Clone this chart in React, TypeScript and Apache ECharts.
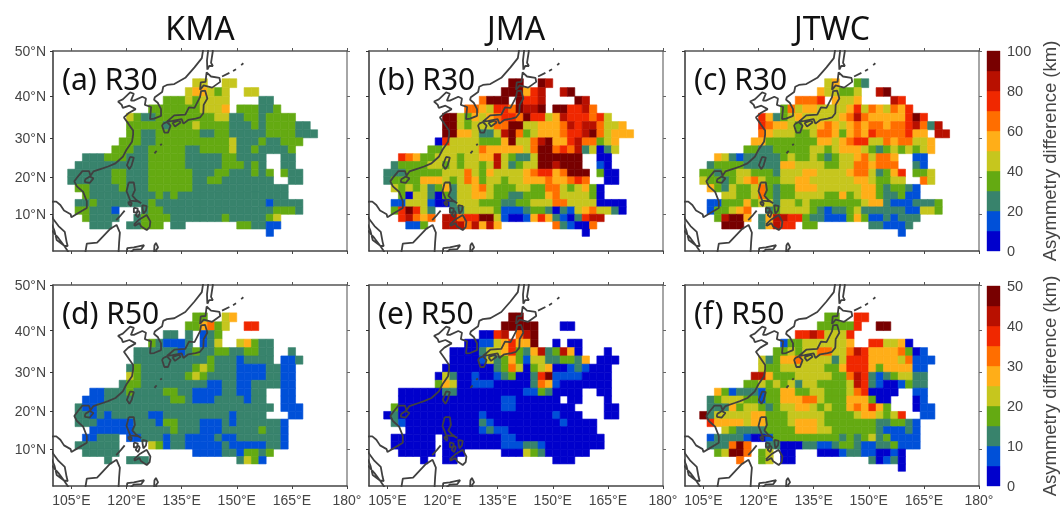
import React, { useEffect, useRef } from "react";
import * as echarts from "echarts";

// Each row: cells as "lonStart-lonEnd:class" (class = colour-bar bin 0..9). Rows run from 42-44N down to 4-6N.
const ROW_LATS = [42, 40, 38, 36, 34, 32, 30, 28, 26, 24, 22, 20, 18, 16, 14, 12, 10, 8, 6, 4];

const panelA = [
  "138-142:4 146-150:4",
  "136-138:4 138-142:5 142-144:4 144-146:3 146-148:4 152-156:4",
  "130-136:3 136-138:4 138-140:3 140-148:4 156-160:2",
  "126-140:3 140-146:4 146-148:5 150-156:3 156-160:2 160-162:3",
  "120-122:4 122-124:3 124-128:2 128-144:3 144-148:4 148-152:2 152-156:3 156-158:2 158-166:3",
  "120-130:3 130-132:2 132-138:3 138-140:4 140-148:3 148-154:2 154-156:3 156-158:2 158-166:3 166-170:2",
  "120-124:3 124-128:2 128-140:3 140-144:2 144-148:3 148-158:2 158-166:3 166-172:2",
  "118-124:3 124-128:2 128-148:3 148-150:4 150-156:2 156-158:3 158-162:2 162-168:3",
  "116-122:3 122-126:2 126-136:3 136-140:2 140-148:3 148-150:4 150-154:2 154-156:3 156-164:2 164-166:3",
  "108-114:2 114-120:3 120-126:2 126-136:3 136-146:2 146-150:3 150-158:2 162-166:2",
  "106-126:2 126-136:3 136-146:2 146-152:3 152-154:2 154-156:3 156-158:2 162-166:2",
  "104-116:2 116-120:3 120-126:2 126-138:3 138-144:2 144-148:3 148-154:2 154-156:3 156-158:2 158-160:3 162-164:3 164-168:2",
  "104-116:2 116-120:3 120-126:2 126-138:3 138-142:2 142-146:3 146-160:2 164-168:2",
  "106-110:3 110-118:2 118-120:3 120-126:2 126-138:3 138-164:2",
  "108-110:3 110-128:2 128-130:3 130-132:2 132-134:3 134-164:2",
  "106-110:2 110-112:3 112-126:2 126-128:3 128-158:2 158-160:1 160-168:2",
  "106-110:3 110-116:2 116-118:1 124-126:2 126-130:3 130-160:2 160-166:3 166-168:2",
  "108-110:3 110-118:2 122-124:2 124-132:3 132-146:2 146-148:3 148-158:2 158-160:3 160-162:4",
  "110-116:2 120-124:2 124-130:3 132-136:2 150-154:3 154-158:2 158-162:1",
  "158-160:1",
];

const panelB = [
  "138-142:9 146-148:9 148-150:8",
  "136-142:9 142-144:5 144-146:7 146-148:8 152-154:8 154-156:9",
  "130-132:6 132-138:9 140-142:9 142-146:7 146-148:8 156-158:9 158-160:8",
  "126-130:6 130-132:5 132-134:4 134-138:7 138-140:6 140-142:9 142-146:8 146-148:9 150-154:9 154-158:7 158-160:8 160-162:6",
  "120-124:9 124-126:4 126-128:3 128-130:5 130-132:4 132-134:5 134-136:6 136-140:7 140-142:6 142-144:9 144-148:7 148-150:4 150-152:5 152-154:8 154-160:7 160-162:6 162-164:7 164-166:4",
  "120-124:9 124-126:4 126-128:3 128-134:4 134-138:6 138-142:9 142-146:4 146-152:5 152-154:6 154-156:8 156-158:7 158-162:8 162-164:6 164-168:4 168-170:5",
  "120-124:9 124-128:5 128-130:4 130-134:2 134-136:4 136-138:8 138-140:9 140-142:6 142-144:3 144-146:4 146-152:5 152-154:6 154-158:7 158-160:8 160-162:9 162-164:6 164-166:4 166-172:5",
  "118-120:0 120-122:7 122-130:4 130-136:3 136-138:5 138-140:9 140-144:4 144-146:6 146-148:8 148-150:9 150-154:5 154-156:7 156-158:8 158-162:6 162-164:3 164-166:4 166-168:5",
  "116-120:3 120-130:4 130-132:6 132-142:5 142-144:4 144-146:6 146-150:9 150-152:6 152-154:7 154-156:6 156-158:8 158-160:2 160-162:4 162-164:0 164-166:2 166-168:4",
  "108-110:7 110-112:6 112-114:5 114-118:3 118-124:4 124-126:3 126-130:4 130-134:5 134-136:8 136-138:4 138-140:3 140-144:2 144-146:4 146-158:9 162-166:0",
  "106-108:2 108-116:3 116-120:4 120-122:3 122-124:4 124-126:3 126-130:4 130-132:3 132-134:4 134-136:8 136-138:4 138-140:2 140-142:3 142-146:4 146-150:9 150-152:8 152-158:9 162-164:1 164-166:0",
  "104-110:2 110-120:3 120-126:4 126-128:6 128-130:4 130-132:3 132-134:5 134-142:4 142-144:5 144-146:6 146-150:7 150-152:5 152-154:6 154-160:9 162-164:3 164-168:0",
  "104-106:2 106-114:3 114-120:5 120-122:4 122-124:3 124-126:4 126-128:6 128-130:5 130-132:3 132-136:4 136-138:3 138-142:4 142-148:5 148-150:6 150-154:5 154-156:6 156-158:7 158-160:6 164-168:0",
  "106-108:4 108-110:3 110-112:4 112-114:3 114-116:4 116-118:2 118-120:3 120-122:5 122-124:2 124-128:4 128-130:5 130-132:6 132-134:4 134-140:3 140-144:4 144-148:3 148-152:6 152-154:4 154-156:3 156-158:4 158-160:5 160-162:3 162-164:0",
  "108-110:3 110-112:0 112-116:4 116-118:2 118-120:0 120-122:3 122-124:2 124-128:4 128-132:5 132-134:4 134-138:3 138-142:2 142-148:3 148-150:5 150-152:6 152-160:4 160-162:3 162-164:0",
  "106-110:1 110-116:4 116-118:1 118-122:0 122-124:2 124-130:4 130-136:3 136-140:2 140-144:3 144-150:4 150-154:6 154-162:4 162-170:0",
  "106-108:3 108-110:7 110-112:9 112-114:7 114-116:4 116-118:2 122-126:2 126-134:4 134-136:3 136-142:1 142-144:2 144-148:3 148-150:2 150-152:0 152-154:2 154-156:1 156-158:4 158-160:5 160-162:6 162-166:4 166-168:2 168-170:0",
  "108-110:7 110-112:8 112-114:6 114-116:5 116-118:6 120-124:8 124-126:6 126-130:7 130-134:9 134-136:4 136-138:1 138-142:0 142-144:1 144-146:5 146-148:7 148-150:5 150-152:2 152-154:1 154-156:0 156-158:2 158-160:7 160-164:8",
  "110-114:1 114-116:3 120-126:8 126-128:6 128-130:8 130-132:5 132-134:8 134-136:5 150-152:6 152-154:2 154-156:1 156-160:0 160-162:6",
  "158-160:0",
];

const panelC = [
  "138-140:4 140-142:5 146-148:3 148-150:2",
  "136-138:5 138-142:4 142-146:3 146-148:4 152-154:8 154-156:9",
  "130-136:6 136-138:7 140-142:5 142-146:4 146-148:5 156-158:8 158-160:7",
  "126-128:3 128-130:6 130-132:4 132-136:5 136-144:4 144-146:5 146-148:7 148-150:4 150-152:6 152-154:5 154-156:4 156-158:6 158-160:5 160-162:7",
  "120-122:7 122-124:5 124-126:2 126-128:3 128-130:4 130-132:5 132-142:4 142-144:5 144-146:6 146-148:8 148-150:6 150-160:5 160-162:7 162-164:9 164-166:7",
  "120-122:7 122-124:6 124-128:5 128-130:4 130-132:3 132-136:4 136-138:5 138-140:6 140-142:5 142-144:4 144-146:5 146-148:6 148-150:5 150-154:6 154-156:5 156-160:6 160-162:7 162-164:8 164-166:6 166-168:2 168-170:8",
  "120-122:6 122-124:5 124-130:4 130-134:3 134-136:4 136-140:6 140-142:5 142-144:3 144-146:5 146-148:6 148-150:5 150-152:7 152-160:6 160-162:7 162-166:5 168-172:8",
  "118-122:5 122-136:3 136-140:5 140-142:4 142-144:5 144-146:6 146-150:7 150-154:4 154-156:6 156-158:5 158-162:6 162-166:4 166-168:5",
  "116-120:3 120-124:2 124-134:3 134-138:4 138-140:3 140-142:4 142-148:5 148-150:4 150-152:3 152-154:2 154-156:3 156-158:4 158-160:3 160-162:4 162-164:3 164-166:4 166-168:5",
  "108-110:5 110-112:4 112-114:2 114-116:1 116-126:2 126-128:3 128-130:4 130-134:3 134-136:4 136-138:3 138-140:2 140-142:3 142-146:4 146-148:5 148-150:6 150-152:4 152-156:6 156-158:5 162-166:1",
  "106-108:2 108-116:3 116-126:2 126-130:5 130-138:4 138-142:3 142-146:4 146-150:6 150-152:5 152-158:6 162-164:2 164-166:1",
  "104-108:3 108-110:2 110-114:3 114-118:4 118-124:3 124-126:2 126-132:4 132-136:5 136-144:4 144-146:5 146-150:6 150-152:4 152-154:2 154-156:3 156-158:5 158-160:7 162-166:3 166-168:4",
  "104-106:4 106-110:3 110-112:2 112-114:3 114-116:4 116-118:5 118-120:6 120-122:4 122-126:3 126-130:4 130-134:5 134-146:4 146-150:5 150-152:4 152-156:3 156-160:4 164-166:6 166-168:4",
  "106-108:5 108-110:3 110-112:2 112-114:4 114-118:3 118-120:4 120-122:6 122-124:3 124-126:2 126-130:3 130-136:5 136-148:4 148-152:5 152-154:3 154-156:2 156-160:3 160-162:2 162-164:1",
  "110-114:4 114-118:3 118-120:4 120-122:6 122-124:3 124-126:2 126-130:3 130-138:4 138-142:3 142-144:5 144-146:3 146-148:4 148-152:5 152-154:3 154-158:2 158-160:3 160-164:1",
  "106-110:1 110-116:3 116-118:5 118-120:3 120-124:4 124-126:2 126-130:4 130-132:3 132-134:4 134-148:3 148-150:4 150-154:5 154-156:2 156-162:1 162-168:2 168-170:3",
  "106-108:1 108-112:3 112-114:4 114-116:5 116-118:6 122-124:2 124-126:3 126-134:4 134-136:3 136-138:2 138-140:1 140-144:2 144-146:3 146-148:4 148-160:2 160-164:1 164-168:4 168-170:3",
  "108-110:3 110-112:8 112-116:9 116-118:5 120-122:2 122-124:5 124-128:8 128-132:7 132-134:3 134-138:2 138-144:1 144-146:3 146-148:5 148-150:3 150-154:1 154-156:2 156-158:1 158-164:2",
  "110-116:9 120-122:2 122-124:5 124-126:8 126-130:7 132-136:3 150-154:2 154-160:1 160-162:2",
  "158-160:1",
];

const panelD = [
  "138-142:3 146-148:4 148-150:5",
  "136-140:3 140-142:5 142-144:6 144-146:3 146-148:4 152-156:7",
  "130-134:2 136-138:2 140-142:1 142-144:2 144-146:3",
  "126-128:3 128-130:2 130-136:1 136-138:2 140-142:1 142-144:2 144-146:4 150-152:4 152-154:5 154-156:3 156-160:2",
  "122-134:2 134-136:1 136-138:2 138-140:3 140-144:2 144-148:3 148-152:2 152-156:3 156-160:2 164-166:2",
  "122-142:2 142-144:3 144-150:2 150-152:1 152-160:2 162-166:1 166-168:2",
  "120-122:2 122-124:3 124-138:2 138-140:3 140-142:4 142-144:3 144-150:2 150-158:1 158-162:2 162-166:1",
  "120-122:4 122-124:3 124-136:2 136-138:3 138-140:4 140-142:3 142-150:2 150-158:1 158-162:2 162-166:1",
  "118-120:2 120-124:3 124-142:2 142-146:1 146-150:2 150-154:1 154-162:2 162-166:1",
  "110-114:1 114-120:2 120-122:3 122-130:2 130-134:3 134-138:2 138-146:1 146-150:2 150-154:1 154-158:2 162-166:1",
  "108-114:1 114-132:2 132-136:3 136-138:2 138-144:1 144-152:2 152-154:1 154-158:2 162-166:1",
  "106-108:2 108-112:1 112-160:2 162-168:1",
  "106-110:2 110-112:1 112-114:2 114-116:1 116-126:2 126-130:1 130-148:2 148-150:1 150-158:2 164-168:1",
  "106-112:2 112-122:1 122-128:2 128-130:1 130-134:3 134-140:2 140-146:1 146-148:2 148-150:1 150-162:2 162-164:1",
  "110-122:1 122-132:2 132-134:3 134-140:2 140-146:1 146-156:2 156-158:3 158-162:2 162-164:1",
  "108-112:1 112-118:2 120-124:1 124-130:2 130-132:1 132-136:2 136-144:1 144-146:2 146-150:1 150-162:2 162-164:1",
  "106-118:2 126-128:4 128-130:3 130-132:1 132-136:2 136-146:1 146-148:2 148-158:1 158-162:2 162-164:1",
  "108-118:2 138-146:1 146-150:2 150-152:1 152-156:3 156-158:2 158-160:3",
  "114-116:2 120-126:2 150-152:2 152-154:4 154-156:3 156-158:1",
  "",
];

const panelE = [
  "138-142:9",
  "136-146:9 152-156:0",
  "130-134:0 134-136:7 136-138:8 140-142:6 142-144:8 144-146:9",
  "126-130:0 130-134:1 134-136:4 136-138:5 138-140:7 140-144:5 144-146:9 150-152:0 154-158:0",
  "122-130:0 130-132:2 132-136:4 136-138:5 138-140:7 140-142:3 142-144:2 144-146:5 146-148:8 148-150:2 150-152:3 152-154:8 154-156:5 156-158:0 164-166:0",
  "122-130:0 130-132:1 132-134:4 134-136:2 136-138:3 138-140:5 140-142:3 142-144:1 144-148:4 148-152:2 152-156:3 156-158:2 158-160:5 162-168:0",
  "120-134:0 134-136:2 136-138:3 138-140:6 140-142:4 142-144:0 144-146:3 146-148:4 148-150:5 150-154:0 154-156:1 156-158:2 158-160:1 160-166:0",
  "118-120:0 120-122:4 122-124:2 124-128:0 128-130:1 130-134:0 134-136:1 136-138:2 138-140:3 140-144:0 144-146:2 146-148:7 148-150:9 150-158:1 158-166:0",
  "118-120:3 120-122:5 122-124:4 124-128:0 128-134:1 134-144:0 144-146:2 146-148:6 148-150:5 150-152:1 152-166:0",
  "108-120:0 120-124:2 124-142:0 142-146:1 146-148:3 148-150:2 150-158:0 162-166:0",
  "108-136:0 136-140:1 140-152:0 154-158:0 164-166:0",
  "106-108:3 108-136:0 136-140:1 140-156:0 164-168:0",
  "104-106:0 106-108:2 108-130:0 130-132:1 132-150:0 150-152:1 152-158:0 164-168:0",
  "106-108:2 108-110:1 110-130:0 130-132:2 132-134:1 134-152:0 152-154:1 154-162:0",
  "110-130:0 130-132:1 132-134:2 134-138:1 138-162:0",
  "106-118:0 120-136:0 136-140:1 140-164:0",
  "106-118:0 120-136:0 136-142:1 142-146:2 146-148:1 148-164:0",
  "108-118:0 120-126:0 136-142:0 142-144:4 144-146:3 146-148:2 148-160:0",
  "114-116:0 120-124:0 150-156:0",
  "",
];

const panelF = [
  "138-142:3 146-150:7",
  "136-146:3 146-148:7 152-156:9",
  "130-134:7 134-136:8 136-138:7 138-144:4 144-146:7",
  "126-128:1 128-132:3 132-144:4 144-146:5 150-154:7 154-158:4 158-160:5 160-162:0",
  "124-128:3 128-130:4 130-132:3 132-136:4 136-140:6 140-144:4 144-146:6 146-148:8 148-150:7 150-158:5 158-160:6 160-162:3 162-164:0 164-166:1",
  "120-122:4 122-124:2 124-126:3 126-130:5 130-132:6 132-140:4 140-142:2 142-144:4 144-150:7 150-158:5 158-160:4 160-162:6 162-168:1",
  "120-122:4 122-126:3 126-138:4 138-142:3 142-144:5 144-150:7 150-152:5 152-154:3 154-162:5 162-166:1",
  "118-122:8 122-124:5 124-130:3 130-140:4 140-144:3 144-146:6 146-148:8 148-150:7 150-152:2 152-154:1 154-156:2 156-158:3 158-162:4 162-166:2",
  "116-120:3 120-122:4 122-124:3 124-126:4 126-128:3 128-130:4 130-132:2 132-136:4 136-144:3 144-146:4 146-148:8 148-150:7 150-152:2 152-154:1 154-158:0 158-160:1 160-162:3 162-166:2",
  "108-110:5 110-112:3 112-114:1 114-120:2 120-122:1 122-126:3 126-130:5 130-134:3 134-138:4 138-144:3 144-146:4 146-148:6 148-150:7 150-158:0 162-166:1",
  "106-108:2 108-110:3 110-116:4 116-120:3 120-122:1 122-126:3 126-132:5 132-136:6 136-138:4 138-144:3 144-150:5 150-152:3 152-156:0 162-164:0 164-166:1",
  "106-112:2 112-114:5 114-116:3 116-120:4 120-122:3 122-124:2 124-126:3 126-130:4 130-134:5 134-136:4 136-138:3 138-140:4 140-144:3 144-146:5 146-148:6 148-150:5 150-152:7 152-154:5 154-156:3 162-164:0 164-168:1",
  "104-106:9 106-108:2 108-118:4 118-122:5 122-128:3 128-138:4 138-146:3 146-148:4 148-152:5 152-154:4 154-156:3 156-158:4 158-160:7 164-168:1",
  "106-108:7 108-116:5 116-118:4 118-122:5 122-128:3 128-130:4 130-136:5 136-138:4 138-152:3 152-156:2 156-160:3 160-162:2 162-164:1",
  "110-112:4 112-114:3 114-122:2 122-130:3 130-136:5 136-140:4 140-152:3 152-154:2 154-160:1 160-162:2 162-164:1",
  "106-108:1 108-116:2 116-118:1 118-122:0 122-124:1 124-142:3 142-144:2 144-146:3 146-148:2 148-150:3 150-152:4 152-154:2 154-156:3 156-164:1",
  "106-112:2 112-114:6 114-116:9 116-118:6 122-126:2 126-132:0 132-136:2 136-140:1 140-142:2 142-146:3 146-148:2 148-152:1 152-156:2 156-158:3 158-164:1",
  "108-110:3 110-112:4 112-116:9 116-118:6 120-122:3 122-124:4 126-130:0 136-142:0 142-144:1 144-148:2 148-152:1 152-156:0 156-158:1 158-160:0",
  "114-116:6 120-122:3 122-124:4 126-130:0 150-152:2 152-154:0 154-156:1 156-158:2 158-160:0",
  "158-160:0",
];

const BIN_COLORS = ["#0000cc", "#0050d8", "#38836c", "#64aa12", "#c6c61e", "#ffae18", "#ff6e00", "#f02800", "#b81000", "#780000"];

const X_TICKS = [105, 120, 135, 150, 165, 180];
const LAT_TICKS = [0, 10, 20, 30, 40, 50];
const R30_TICKS = [0, 20, 40, 60, 80, 100];
const R50_TICKS = [0, 10, 20, 30, 40, 50];

// Coastlines, [lon, lat]
const mainland = [[142,54],[141,51],[140.5,48.5],[138.5,46.5],[136,44.2],[133,42.8],[131,42.6],[130,42.2],[129.7,41],[127.7,39.8],[127.5,39.2],[128.5,38.5],[129.4,37],[129.4,35.4],[127.5,34.7],[126.4,34.6],[126.6,36.5],[126.7,37.5],[125,38],[125.3,39.5],[124.3,39.9],[122,39],[121.2,39],[122,40.6],[121,40.9],[119,39.3],[117.7,38.8],[118.7,38],[119,37.3],[120.8,37.8],[122.5,37],[120.5,36],[119.3,35],[120.5,33.5],[121.8,31.8],[121.8,30.8],[121.5,29],[120,27],[119,25.2],[117,23.5],[115,22.7],[113.5,22.2],[111,21.4],[110.2,20.3],[109.8,21.5],[108,21.5],[106.7,20],[105.8,18.8],[106.5,17.5],[108.2,16],[109.2,13.5],[109.2,11.7],[107,10.4],[105,9.2],[104.8,10],[103,11],[102,12.5],[100.9,13.4],[100,13.4],[98,13]];
const malaya = [[99,11],[100,8.8],[101.5,6.8],[103.2,5.2],[103.7,2.5],[104,1.3],[103,1.5],[101,3],[100.4,5.5],[99.8,7],[98.5,8.2],[98,10]];
const sumatra = [[98,7],[100,5.2],[101.5,3.5],[103,1.5],[104,0],[104.5,-1]];
const borneo = [[108.7,-1],[109.2,2],[112,2.3],[115.5,6],[117.3,7.1],[118.2,5],[118,2.5],[117.8,-1]];
const celebes = [[120,-1],[120.2,0.8],[122,1],[124.8,1.6],[124,0.5],[122,0.4],[121,-0.5]];
const halmahera = [[127.5,-0.5],[127.6,1.5],[128,2.2],[128.6,1],[128,0.2],[128.2,-0.6]];
const palawan = [[117.2,8.4],[118.5,9.8],[119.5,11]];
const luzon = [[120.6,18.5],[122,18.5],[122.3,16.5],[121.6,15],[122.5,14],[124,13],[123,13.5],[121,13.7],[120.5,15],[120,16.2],[120.6,18.5]];
const mindoro = [[120.5,13.4],[121.4,13],[121.2,12.2],[120.6,12.8],[120.5,13.4]];
const samar = [[124.3,12.5],[125.5,12.2],[125.3,11],[124.6,10.2],[124.4,11.3],[124.3,12.5]];
const panay = [[122,11.8],[123.1,11.5],[122.8,10.5],[122,10.5],[122,11.8]];
const negros = [[123.2,11],[123.6,10.4],[123.2,9.2],[122.5,9.8],[123.2,11]];
const mindanao = [[122,7.2],[123.5,8.6],[125.5,9.8],[126.5,8],[126.3,6.5],[125.5,5.7],[124,6.7],[123.5,7.6],[122.3,6.9],[122,7.2]];
const taiwan = [[121,25.2],[122,25],[121.4,23],[120.8,22],[120.1,23],[121,25.2]];
const hainan = [[108.7,19.3],[110,20.1],[111,19.6],[110,18.4],[108.7,18.6],[108.7,19.3]];
const kyushu = [[130,33.5],[131,33.9],[132,33],[131.3,31.3],[130.3,31.3],[129.7,33],[130,33.5]];
const shikoku = [[132.5,33.7],[134.3,34.3],[134.7,33.8],[133.2,32.8],[132.5,33.7]];
const honshu = [[131,34],[133,35.5],[136,35.7],[137,37.4],[138.5,37.3],[140,39.8],[140.3,41.2],[141.4,41.3],[142,39.5],[141,38],[140.9,36],[140,35],[138.8,34.7],[136.8,34.4],[135.5,33.5],[135,34.6],[132.5,34.2],[131,34]];
const hokkaido = [[140,41.5],[140.2,43.2],[141.5,43.3],[141.8,45.4],[143,44.5],[145.3,44.2],[145.5,43.3],[143.3,42],[141,42.5],[140,41.5]];
const sakhalin = [[142,46],[141.9,48],[142.2,50],[142.3,54],[143.5,50],[143,47.5],[143.5,46.8],[142.5,46.8],[142,46]];
const kuril1 = [[146,44.5],[148,45.3]];
const kuril2 = [[149,45.7],[149.8,46.1]];
const kuril3 = [[151.2,47],[151.8,47.4]];
const okinawa = [[127.6,26.1],[128.2,26.7]];
const amami = [[129.2,28.1],[129.6,28.5]];
const COAST = [mainland, malaya, sumatra, borneo, celebes, halmahera, palawan, luzon, mindoro, samar, panay, negros, mindanao, taiwan, hainan, kyushu, shikoku, honshu, hokkaido, sakhalin, kuril1, kuril2, kuril3, okinawa, amami];

// Miller cylindrical projection of latitude, in degrees: the maps' y axis is linear in this.
const miller = (lat: number) => 1.25 * Math.log(Math.tan(Math.PI / 4 + (0.4 * lat * Math.PI) / 180)) * (180 / Math.PI);

const PANELS = [
  { rows: panelA, label: "(a) R30", left: 53, top: 51, h: 200, bin: 10 },
  { rows: panelB, label: "(b) R30", left: 369, top: 51, h: 200, bin: 10 },
  { rows: panelC, label: "(c) R30", left: 685, top: 51, h: 200, bin: 10 },
  { rows: panelD, label: "(d) R50", left: 53, top: 285, h: 201, bin: 5 },
  { rows: panelE, label: "(e) R50", left: 369, top: 285, h: 201, bin: 5 },
  { rows: panelF, label: "(f) R50", left: 685, top: 285, h: 201, bin: 5 },
];
const TITLES = [["KMA", 200], ["JMA", 516], ["JTWC", 832]] as const;

function decode(rows: string[], bin: number) {
  const out: number[][] = [];
  rows.forEach((row, r) => {
    row.split(" ").filter(Boolean).forEach((seg) => {
      const [range, cls] = seg.split(":");
      const [a, b] = range.split("-").map(Number);
      for (let lon = a; lon < b; lon += 2) out.push([lon, ROW_LATS[r], (Number(cls) + 0.5) * bin]);
    });
  });
  return out;
}

function coastData() {
  const out: any[] = [];
  COAST.forEach((line) => {
    line.forEach(([lon, lat]) => out.push([lon, miller(lat)]));
    out.push([null, null]);
  });
  return out;
}

const AXIS_FONT = { fontFamily: "Liberation Sans", fontSize: 14, color: "#444" };

function buildOption() {
  const grid: any[] = [];
  const xAxis: any[] = [];
  const yAxis: any[] = [];
  const series: any[] = [];
  const mMax = miller(50);
  const latVals = LAT_TICKS.map(miller);
  const coast = coastData();

  PANELS.forEach((p, i) => {
    grid.push({ left: p.left, top: p.top, width: 294, height: p.h });
    const showX = i >= 3;
    const showY = i === 0 || i === 3;
    const tick = (color: string, customValues: number[]) => ({ show: true, length: 3, customValues, lineStyle: { color, width: 1 } });
    xAxis.push(
      {
        gridIndex: i, type: "value", min: 100, max: 180, position: "bottom", splitLine: { show: false },
        axisLine: { onZero: false, lineStyle: { color: "#444", width: 1.5 } },
        axisTick: tick("#444", X_TICKS),
        axisLabel: { show: showX, customValues: X_TICKS, margin: 7, ...AXIS_FONT, formatter: (v: number) => (v === 180 ? "180°" : `${v}°E`) },
      },
      {
        gridIndex: i, type: "value", min: 100, max: 180, position: "top", splitLine: { show: false },
        axisLine: { onZero: false, lineStyle: { color: "#555", width: 1.5 } },
        axisTick: tick("#555", X_TICKS),
        axisLabel: { show: false },
      }
    );
    yAxis.push(
      {
        gridIndex: i, type: "value", min: 0, max: mMax, position: "left", splitLine: { show: false },
        axisLine: { onZero: false, lineStyle: { color: "#333", width: 1.5 } },
        axisTick: tick("#333", latVals),
        axisLabel: {
          show: showY, customValues: latVals, margin: 7, ...AXIS_FONT,
          formatter: (v: number) => {
            const lat = LAT_TICKS[latVals.findIndex((m) => Math.abs(m - v) < 0.01)];
            return lat === 0 ? "0°" : `${lat}°N`;
          },
        },
      },
      {
        gridIndex: i, type: "value", min: 0, max: mMax, position: "right", splitLine: { show: false },
        axisLine: { onZero: false, lineStyle: { color: "#888", width: 1.5 } },
        axisTick: tick("#666", latVals),
        axisLabel: { show: false },
      }
    );
    const bin = p.bin;
    series.push({
      type: "custom",
      coordinateSystem: "cartesian2d",
      xAxisIndex: i * 2,
      yAxisIndex: i * 2,
      clip: true,
      silent: true,
      data: decode(p.rows, bin),
      renderItem: (_: any, api: any) => {
        const lon = api.value(0);
        const lat = api.value(1);
        const a = api.coord([lon, miller(lat)]);
        const b = api.coord([lon + 2, miller(lat + 2)]);
        const color = BIN_COLORS[Math.floor(api.value(2) / bin)];
        return {
          type: "rect",
          shape: { x: a[0], y: b[1], width: b[0] - a[0], height: a[1] - b[1] },
          style: { fill: color, stroke: color, lineWidth: 0.6 },
        };
      },
    });
    series.push({
      type: "line",
      xAxisIndex: i * 2,
      yAxisIndex: i * 2,
      data: coast,
      showSymbol: false,
      connectNulls: false,
      clip: true,
      silent: true,
      lineStyle: { color: "#404040", width: 1.8 },
      z: 5,
    });
  });

  // colour bars
  [
    { top: 51, h: 200, ticks: R30_TICKS, bin: 10 },
    { top: 286, h: 200, ticks: R50_TICKS, bin: 5 },
  ].forEach((c, k) => {
    const gi = PANELS.length + k;
    grid.push({ left: 987, top: c.top, width: 18, height: c.h });
    const xIdx = xAxis.length;
    const yIdx = yAxis.length;
    xAxis.push({ gridIndex: gi, type: "value", min: 0, max: 1, show: false });
    yAxis.push({
      gridIndex: gi, type: "value", min: 0, max: c.ticks[5], interval: c.ticks[1], position: "right",
      splitLine: { show: false }, axisLine: { show: false }, axisTick: { show: false },
      axisLabel: { margin: 7, ...AXIS_FONT, fontSize: 14.5 },
      name: "Asymmetry difference (km)", nameLocation: "middle", nameRotate: 90, nameGap: 40,
      nameTextStyle: { fontFamily: "Liberation Sans", fontSize: 18.5, color: "#444" },
    });
    series.push({
      type: "custom",
      coordinateSystem: "cartesian2d",
      xAxisIndex: xIdx,
      yAxisIndex: yIdx,
      silent: true,
      data: BIN_COLORS.map((_, n) => [n * c.bin]),
      renderItem: (_: any, api: any) => {
        const v = api.value(0);
        const a = api.coord([0, v]);
        const b = api.coord([1, v + c.bin]);
        const color = BIN_COLORS[Math.round(v / c.bin)];
        return {
          type: "rect",
          shape: { x: a[0], y: b[1], width: b[0] - a[0], height: a[1] - b[1] },
          style: { fill: color, stroke: color, lineWidth: 0.4 },
        };
      },
    });
  });

  const graphic = [
    ...TITLES.map(([text, x]) => ({
      type: "text", x, y: 27, z: 20,
      style: { text, x: 0, y: 0, align: "center", verticalAlign: "middle", fontFamily: "Noto Sans", fontSize: 32, fill: "#111" },
    })),
    ...PANELS.map((p) => ({
      type: "text", x: p.left + 9, y: p.top + 27, z: 20,
      style: { text: p.label, x: 0, y: 0, align: "left", verticalAlign: "middle", fontFamily: "Noto Sans", fontSize: 30, fill: "#111" },
    })),
  ];

  return { animation: false, backgroundColor: "#fff", grid, xAxis, yAxis, series, graphic };
}

export default function App() {
  const ref = useRef<HTMLDivElement>(null);
  useEffect(() => {
    const chart = echarts.init(ref.current!, undefined, { renderer: "svg" });
    chart.setOption(buildOption() as any);
    return () => chart.dispose();
  }, []);
  return <div ref={ref} style={{ position: "absolute", left: 0, top: 0, width: 1060, height: 507, filter: "blur(0.45px)" }} />;
}
